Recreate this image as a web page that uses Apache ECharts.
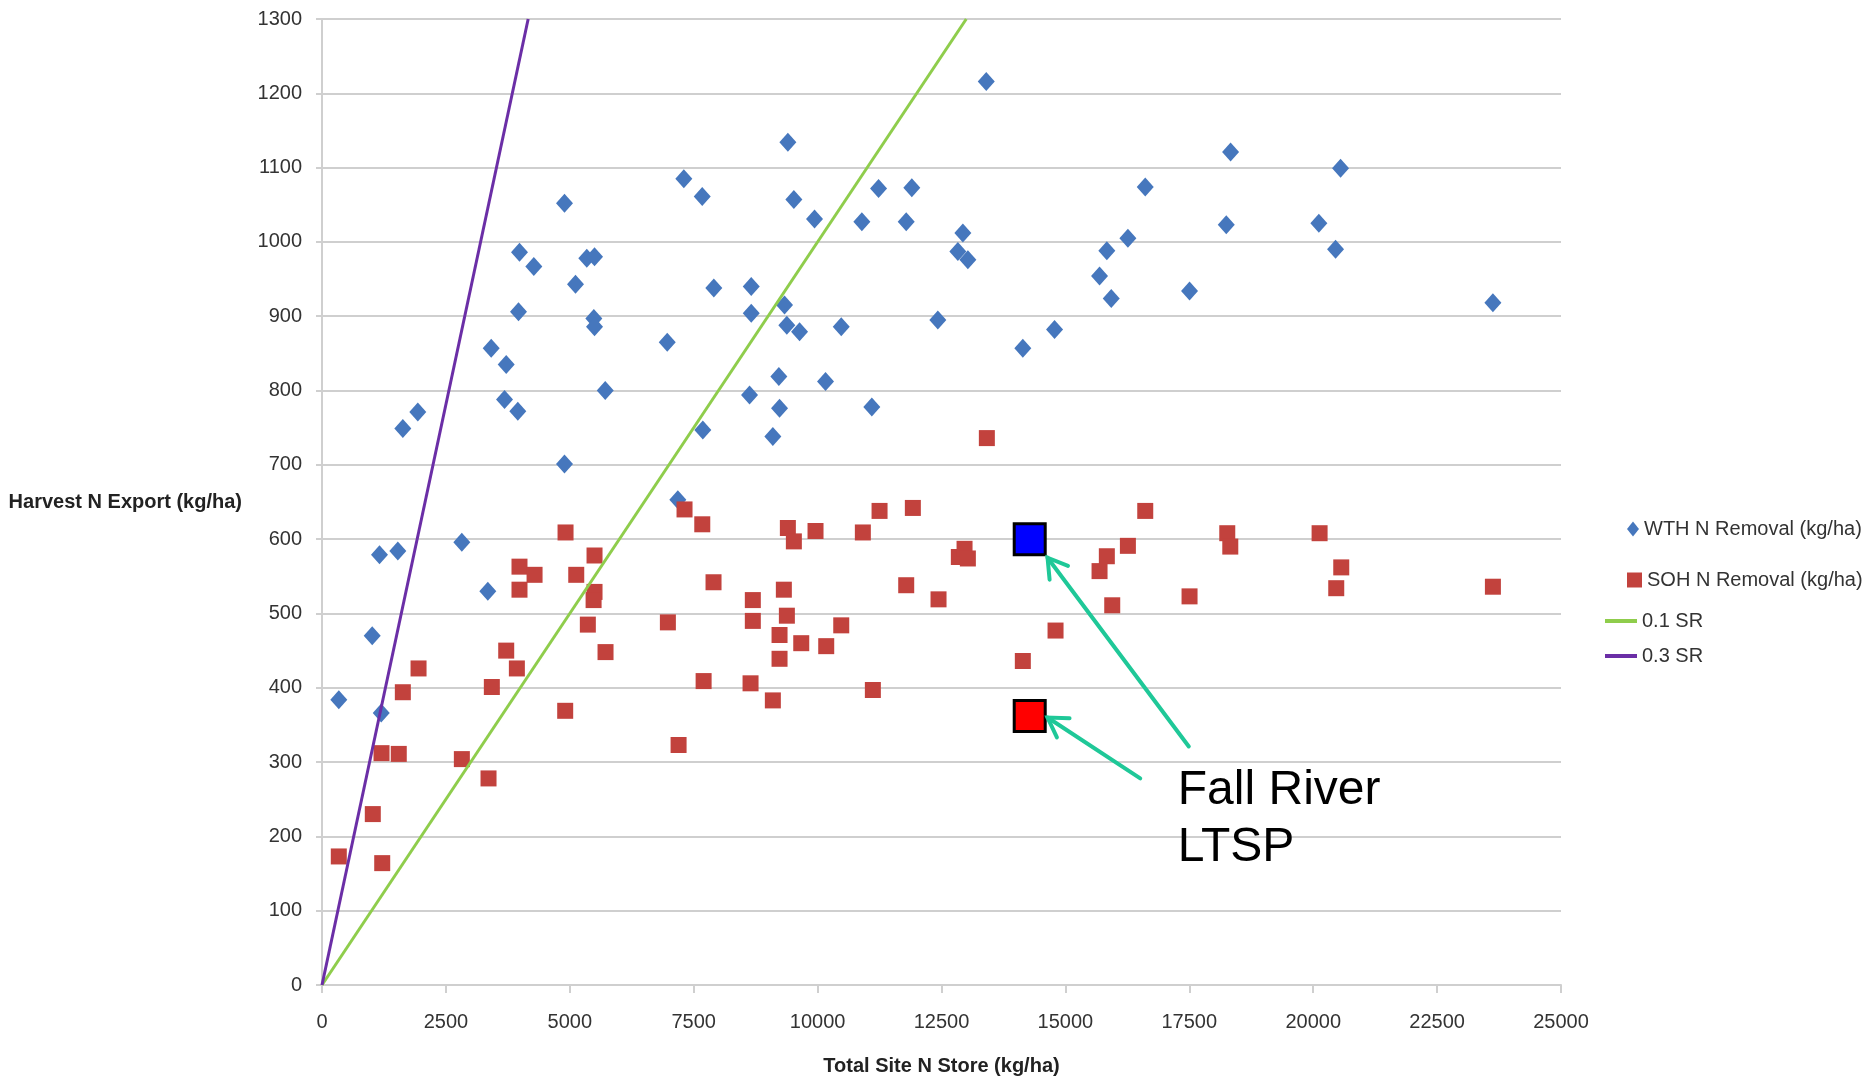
<!DOCTYPE html>
<html>
<head>
<meta charset="utf-8">
<script src="https://cdn.jsdelivr.net/npm/echarts@6/dist/echarts.min.js"></script>
<style>
html,body{margin:0;padding:0;background:#ffffff;}
#chart{width:1866px;height:1081px;}
</style>
</head>
<body>
<div id="chart"></div>
<script>
// ---- data ----
const wthRemoval = [
  [339,384],[1013,470],[1160,579],[1195,366],[1530,584],[1631,749],[1933,771],
  [2821,596],[3346,530],[3414,857],[3683,788],[3717,835],[3951,772],[3965,906],
  [3985,986],[4274,967],[4893,701],[4893,1052],[5115,943],[5343,978],[5485,897],
  [5499,886],[5499,980],[5715,800],[6966,865],[7180,653],[7301,1085],[7672,1061],
  [7684,747],[7906,938],[8627,794],[8661,940],[8661,904],[9097,738],[9218,819],
  [9232,776],[9333,915],[9379,888],[9400,1134],[9521,1057],[9636,879],[9938,1031],
  [10160,812],[10477,886],[10893,1027],[11094,778],[11230,1072],[11788,1027],
  [11901,1073],[12426,895],[12830,987],[12931,1012],[13032,976],[13403,1216],
  [14141,857],[14781,882],[15689,954],[15836,988],[15925,924],[16261,1005],
  [16611,1074],[17505,934],[18246,1023],[18333,1121],[20114,1025],[20451,990],
  [20552,1099],[23626,918]
];
const sohRemoval = [
  [339,173],[1025,230],[1215,164],[1201,312],[1549,311],[1631,394],[1948,426],
  [2822,304],[3360,278],[3427,401],[3717,450],[3985,563],[3985,532],[3932,426],
  [4289,552],[4914,609],[4907,369],[5130,552],[5499,578],[5499,529],[5480,518],
  [5364,485],[5721,448],[6979,488],[7195,323],[7315,640],[7673,620],[7700,409],
  [7900,542],[8693,518],[8693,490],[8647,406],[9097,383],[9232,439],[9232,471],
  [9380,497],[9319,532],[9400,615],[9521,597],[9670,460],[9958,611],[10174,456],
  [10477,484],[10913,609],[11250,638],[11115,397],[11788,538],[11922,642],
  [12440,519],[12850,576],[12965,587],[13032,574],[13415,736],[14141,436],
  [14801,477],[15689,557],[15836,577],[15945,511],[16261,591],[16611,638],
  [17505,523],[18266,608],[18327,590],[20129,608],[20566,562],[20465,534],
  [23626,536]
];
const sr01Line = [[0,0],[13000,1300]];
const sr03Line = [[0,0],[4160,1300]];
const fallRiverWTH = [[14280,600]];
const fallRiverSOH = [[14280,362]];
// annotation arrows: [tail, tip] in data units
const arrowLinks = [
  [[17490,321],[14640,575]],
  [[16510,278],[14640,360]]
];
const annotationText = 'Fall River\nLTSP';
const seriesNames = ['WTH N Removal (kg/ha)','SOH N Removal (kg/ha)','0.1 SR','0.3 SR'];
const xAxisTitle = 'Total Site N Store (kg/ha)';
const yAxisTitle = 'Harvest N Export (kg/ha)';

// ---- styling ----
const FONT = '"Liberation Sans", Arial, sans-serif';
const C_WTH = '#4677bd';
const C_SOH = '#c2423d';
const C_G = '#8fcd4c';
const C_P = '#6b2ea6';
const C_GRID = '#cfcfcf';
const C_ARROW = '#1fc898';

const chart = echarts.init(document.getElementById('chart'), null, {renderer:'canvas'});

const legendText = {fontFamily: FONT, fontSize: 20, color: '#333'};
const plainNumber = function (v) { return String(v); };

const option = {
  animation: false,
  backgroundColor: '#ffffff',
  grid: {left: 322, right: 305, top: 19, bottom: 96, containLabel: false},
  xAxis: {
    type: 'value', min: 0, max: 25000, interval: 2500,
    name: xAxisTitle, nameLocation: 'middle', nameGap: 71,
    nameTextStyle: {fontFamily: FONT, fontSize: 20, fontWeight: 'bold', color: '#222'},
    axisLine: {show: true, onZero: false, lineStyle: {color: C_GRID, width: 2}},
    axisTick: {show: true, length: 8, lineStyle: {color: C_GRID, width: 2}},
    axisLabel: {margin: 27, fontFamily: FONT, fontSize: 20, color: '#333', formatter: plainNumber},
    splitLine: {show: false}
  },
  yAxis: {
    type: 'value', min: 0, max: 1300, interval: 100,
    name: yAxisTitle, nameLocation: 'middle', nameRotate: 0, nameGap: 80,
    nameTextStyle: {fontFamily: FONT, fontSize: 20, fontWeight: 'bold', color: '#222', align: 'right', verticalAlign: 'middle'},
    axisLine: {show: true, lineStyle: {color: C_GRID, width: 2}},
    axisTick: {show: true, length: 6, lineStyle: {color: C_GRID, width: 2}},
    axisLabel: {margin: 20, fontFamily: FONT, fontSize: 20, color: '#333', formatter: plainNumber},
    splitLine: {show: true, lineStyle: {color: C_GRID, width: 2}}
  },
  legend: [
    {data: [{name: seriesNames[0], icon: 'diamond'}], left: 1622, top: 514, itemWidth: 12, itemHeight: 15, itemGap: 0, textStyle: legendText},
    {data: [{name: seriesNames[1], icon: 'rect'}], left: 1622, top: 565, itemWidth: 15, itemHeight: 15, textStyle: legendText},
    {data: [{name: seriesNames[2], icon: 'rect'}], left: 1600, top: 606, itemWidth: 32, itemHeight: 4, textStyle: legendText},
    {data: [{name: seriesNames[3], icon: 'rect'}], left: 1600, top: 641, itemWidth: 32, itemHeight: 4, textStyle: legendText}
  ],
  series: [
    {name: seriesNames[0], type: 'scatter', data: wthRemoval, symbol: 'diamond', symbolSize: [17,19],
     itemStyle: {color: C_WTH, opacity: 1}, z: 2},
    {name: seriesNames[1], type: 'scatter', data: sohRemoval, symbol: 'rect', symbolSize: 16,
     itemStyle: {color: C_SOH, opacity: 1}, z: 3},
    {name: seriesNames[2], type: 'line', data: sr01Line, symbol: 'none', showSymbol: false,
     lineStyle: {color: C_G, width: 3}, itemStyle: {color: C_G}, z: 4},
    {name: seriesNames[3], type: 'line', data: sr03Line, symbol: 'none', showSymbol: false,
     lineStyle: {color: C_P, width: 3}, itemStyle: {color: C_P}, z: 4},
    {name: 'Fall River WTH', type: 'scatter', data: fallRiverWTH, symbol: 'rect', symbolSize: 31,
     itemStyle: {color: '#0000ff', borderColor: '#000', borderWidth: 3, opacity: 1}, z: 6},
    {name: 'Fall River SOH', type: 'scatter', data: fallRiverSOH, symbol: 'rect', symbolSize: 31,
     itemStyle: {color: '#ff0000', borderColor: '#000', borderWidth: 3, opacity: 1}, z: 6}
  ]
};
chart.setOption(option);

// annotation arrows + label positioned through the chart's own scales
function buildAnnotations(){
  const g = [];
  arrowLinks.forEach(function(link){
    const p = chart.convertToPixel({gridIndex: 0}, link[0]);
    const q = chart.convertToPixel({gridIndex: 0}, link[1]);
    const ang = Math.atan2(p[1]-q[1], p[0]-q[0]);
    const L = 22, s = 0.55;
    const a1 = [q[0] + L*Math.cos(ang+s), q[1] + L*Math.sin(ang+s)];
    const a2 = [q[0] + L*Math.cos(ang-s), q[1] + L*Math.sin(ang-s)];
    g.push({type: 'polyline', z: 100, shape: {points: [p, q]}, style: {stroke: C_ARROW, lineWidth: 4, fill: null, lineCap: 'round'}});
    g.push({type: 'polyline', z: 100, shape: {points: [a1, q, a2]}, style: {stroke: C_ARROW, lineWidth: 4, fill: null, lineCap: 'round', lineJoin: 'miter'}});
  });
  const t = chart.convertToPixel({gridIndex: 0}, arrowLinks[0][0]);
  g.push({type: 'text', z: 100, x: t[0] - 11, y: t[1] + 16,
    style: {text: annotationText, fontFamily: FONT, fontSize: 48, lineHeight: 57, fill: '#000', align: 'left', verticalAlign: 'top'}});
  chart.setOption({graphic: g});
}
buildAnnotations();
</script>
</body>
</html>
